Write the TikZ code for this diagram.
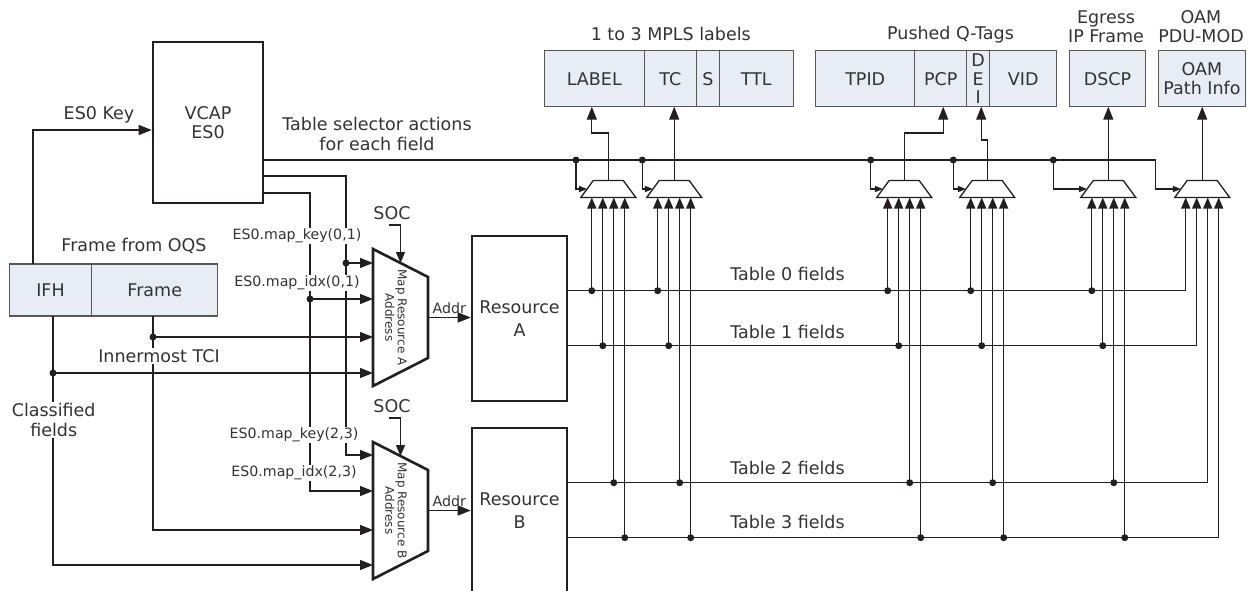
\documentclass[tikz,border=0pt]{standalone}
\usepackage{fontspec}
\setmainfont{DejaVu Sans}
\usetikzlibrary{arrows.meta, positioning}
\definecolor{ink}{RGB}{35,31,32}
\definecolor{txt}{RGB}{51,51,51}
\definecolor{fieldbg}{RGB}{232,236,245}

\begin{document}
\begin{tikzpicture}[
    x=1pt, y=-1pt, line width=1.3pt, color=ink,
    every node/.style={text=txt, font=\fontsize{17.5}{19.5}\selectfont},
    blk/.style={rectangle, draw=ink, line width=2.6pt, inner sep=0pt, align=center},
    field/.style={rectangle, draw=ink!75, line width=1.2pt, fill=fieldbg, minimum height=56pt, inner sep=0pt, outer sep=0pt},
    muxbox/.style={rectangle, inner sep=0pt, outer sep=0pt},
    muxtext/.style={rotate=-90, align=center, font=\fontsize{12}{12.5}\selectfont},
    dot/.style={circle, fill=ink, inner sep=0pt, minimum size=7pt},
    small/.style={font=\fontsize{14.2}{16}\selectfont},
    cut/.style={fill=white, inner sep=1pt},
    arrow/.style={-{Triangle[length=13pt, width=10pt]}},
    inarr/.style={-{Triangle[length=11pt, width=9pt]}},
    selarr/.style={-{Triangle[length=8pt, width=6pt]}}
]
    \useasboundingbox (0,0) rectangle (1253,590);

    % Left side
    \node[blk, minimum width=110pt, minimum height=161pt] (vcap) at (208,122.5) {VCAP\\ES0};
    \node[field, minimum width=82.5pt, minimum height=52pt] (ifh) at (50.5,290) {IFH};
    \node[field, minimum width=126pt, minimum height=52pt, right=0pt of ifh] (frm) {Frame};
    \node (oqs) at (134,246) {Frame from OQS};
    \node (key) at (99,115) {ES0 Key};

    % Map resource muxes and resources
    \node[muxbox, minimum width=55pt, minimum height=137pt] (muxA) at (400.5,317.5) {};
    \node[muxbox, minimum width=55pt, minimum height=137pt] (muxB) at (400.5,510.5) {};
    \foreach \m in {muxA, muxB}
        \draw[line width=2.6pt, line join=miter] (\m.north west) -- ([yshift=-28pt]\m.north east)
            -- ([yshift=28pt]\m.south east) -- (\m.south west) -- cycle;
    \node[muxtext] (muxAtxt) at (396,317.5) {Map Resource A\\Address};
    \node[muxtext] (muxBtxt) at (396,510.5) {Map Resource B\\Address};
    \node[blk, minimum width=95pt, minimum height=165pt, font=\fontsize{17.5}{23}\selectfont] (resA) at (519.5,318.5) {Resource\\A};
    \node[blk, minimum width=95pt, minimum height=165pt, font=\fontsize{17.5}{23}\selectfont] (resB) at (519.5,510.5) {Resource\\B};
    \node (socA) at (392,213) {SOC};
    \node (socB) at (392,406) {SOC};

    % Field boxes
    \node[field, minimum width=100pt] (lab) at (594.3,78.7) {LABEL};
    \node[field, minimum width=52pt, right=0pt of lab] (tc) {TC};
    \node[field, minimum width=23pt, right=0pt of tc] (sb) {S};
    \node[field, minimum width=74pt, right=0pt of sb] (ttl) {TTL};
    \node[field, minimum width=99pt] (tpid) at (865.2,78.7) {TPID};
    \node[field, minimum width=52pt, right=0pt of tpid] (pcp) {PCP};
    \node[field, minimum width=23pt, right=0pt of pcp, align=center, font=\fontsize{17.5}{18.5}\selectfont] (dei) {D\\E\\I};
    \node[field, minimum width=67pt, right=0pt of dei] (vid) {VID};
    \node[field, minimum width=76.4pt] (dscp) at (1107.5,78.7) {DSCP};
    \node[field, minimum width=87.4pt, align=center] (oam) at (1202,78.7) {OAM\\Path Info};
    \node (mpls) at (670.8,34) {1 to 3 MPLS labels};
    \node (qtags) at (950.5,35) {Pushed Q-Tags};
    \node[align=center] (egr) at (1106,26.5) {Egress\\IP Frame};
    \node[align=center] (oamh) at (1201,26.5) {OAM\\PDU-MOD};
    \node[align=center] (sel) at (377,134) {Table selector actions\\for each field};

    % Field muxes
    \node[muxbox, minimum width=55pt, minimum height=17pt] (sm1) at (608.3,189) {};
    \node[muxbox, minimum width=55pt, minimum height=17pt] (sm2) at (674.2,189) {};
    \node[muxbox, minimum width=55pt, minimum height=17pt] (sm3) at (904.2,189) {};
    \node[muxbox, minimum width=55pt, minimum height=17pt] (sm4) at (987.2,189) {};
    \node[muxbox, minimum width=55pt, minimum height=17pt] (sm5) at (1108.3,189) {};
    \node[muxbox, minimum width=55pt, minimum height=17pt] (sm6) at (1202.2,189) {};
    \foreach \m in {sm1,sm2,sm3,sm4,sm5,sm6}
        \draw[line join=miter] (\m.south west) -- (\m.south east) -- ([xshift=-12.5pt]\m.north east)
            -- ([xshift=12.5pt]\m.north west) -- cycle;

    % Bends and junctions
    \coordinate (kc) at (33,130);
    \coordinate (kb) at (346,455);
    \coordinate (ib) at (310,491);
    \coordinate (fb) at (153,530);
    \coordinate (cb) at (53,565);
    \coordinate (sa) at (389,225);
    \coordinate (sbb) at (389,418);
    \coordinate (selend) at (1155.5,160);
    \node[dot] (kdot) at (346,263) {};
    \node[dot] (idot) at (310,299) {};
    \node[dot] (fdot) at (153,337) {};
    \node[dot] (cdot) at (53,373) {};

    % Key and map inputs
    \draw[arrow] (ifh.north -| kc) -- (kc) -- (vcap.west |- kc);
    \draw[arrow] (vcap.east |- 0,176) -| (kb) -- (muxB.west |- kb);
    \draw[arrow] (kdot.center) -- (muxA.west |- kdot);
    \draw[arrow] (vcap.east |- 0,193) -| (ib) -- (muxB.west |- ib);
    \draw[arrow] (idot.center) -- (muxA.west |- idot);
    \draw (frm.south -| fdot) -- (fdot.center);
    \draw[arrow] (fdot.center) -- (muxA.west |- fdot);
    \draw[arrow] (fdot.center) -- (fb) -- (muxB.west |- fb);
    \draw (ifh.south -| cdot) -- (cdot.center);
    \draw[arrow] (cdot.center) -- (muxA.west |- cdot);
    \draw[arrow] (cdot.center) -- (cb) -- (muxB.west |- cb);
    \draw[inarr] (sa) -| ([yshift=-14pt]muxA.north);
    \draw[inarr] (sbb) -| ([yshift=-14pt]muxB.north);
    \draw[arrow] (muxA.east) -- (muxA.east -| resA.west) node[midway, above, small] (addrA) {Addr};
    \draw[arrow] (muxB.east) -- (muxB.east -| resB.west) node[midway, above, small] (addrB) {Addr};

    % Table selector
    \draw[selarr] (vcap.east |- selend) -- (selend) |- ([xshift=6.25pt]sm6.west);
    \foreach \x/\n in {576/1, 642.3/2, 870.7/3, 953.3/4, 1053.3/5} {
        \node[dot] (sd\n) at (\x,160) {};
        \draw[selarr] (sd\n.center) |- ([xshift=6.25pt]sm\n.west);
    }

    % Table fields
    \coordinate (t0) at (resA.east |- 0,290.7);
    \coordinate (t1) at (resA.east |- 0,345.7);
    \coordinate (t2) at (resB.east |- 0,482.7);
    \coordinate (t3) at (resB.east |- 0,537.7);
    \draw[inarr] (t0) -| ([xshift=-16.5pt]sm6.south);
    \draw[inarr] (t1) -| ([xshift=-5.5pt]sm6.south);
    \draw[inarr] (t2) -| ([xshift=5.5pt]sm6.south);
    \draw[inarr] (t3) -| ([xshift=16.5pt]sm6.south);
    \foreach \m in {1,...,5} {
        \foreach \t/\dx in {0/-16.5, 1/-5.5, 2/5.5, 3/16.5} {
            \node[dot] (in\m\t) at ([xshift=\dx pt]sm\m.south |- t\t) {};
            \draw[inarr] (in\m\t.center) -- ([xshift=\dx pt]sm\m.south);
        }
    }
    \node (tf0) at (787.5,274) {Table 0 fields};
    \node (tf1) at (787.5,331.7) {Table 1 fields};
    \node (tf2) at (787.5,468.3) {Table 2 fields};
    \node (tf3) at (787.5,521.7) {Table 3 fields};

    % Outputs to frame fields
    \draw[arrow] (sm1.north) -- ++(0,-47.5) -| ([xshift=-2.5pt]lab.south);
    \draw[arrow] (sm2.north) -- (sm2.north |- tc.south);
    \draw[arrow] (sm3.north) -- ++(0,-47.5) -| ([xshift=2.5pt]pcp.south);
    \draw[arrow] (sm4.north) -- ++(0,-40.5) -| ([xshift=3pt]dei.south);
    \draw[arrow] (sm5.north) -- (sm5.north |- dscp.south);
    \draw[arrow] (sm6.north) -- (sm6.north |- oam.south);

    % Labels over wires
    \node[cut, small] (mk01) at (297,236) {ES0.map\_key(0,1)};
    \node[cut, small] (mi01) at (297,283) {ES0.map\_idx(0,1)};
    \node[cut, small] (mk23) at (294,435) {ES0.map\_key(2,3)};
    \node[cut, small] (mi23) at (294,473) {ES0.map\_idx(2,3)};
    \node[cut] (tci) at (159,356) {Innermost TCI};
    \node[cut, align=center] (cls) at (53.7,420) {Classified\\fields};
\end{tikzpicture}
\end{document}
